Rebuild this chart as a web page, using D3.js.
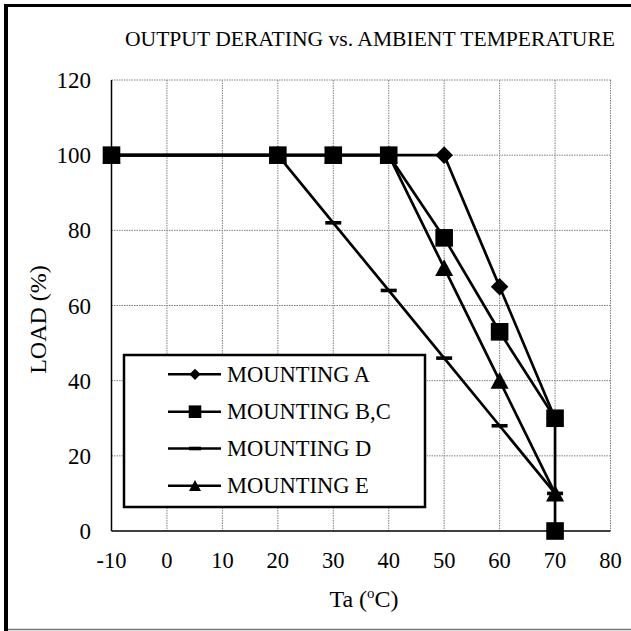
<!DOCTYPE html>
<html>
<head>
<meta charset="utf-8">
<script src="https://cdn.jsdelivr.net/npm/d3@7/dist/d3.min.js"></script>
<style>
  html, body { margin: 0; padding: 0; background: #fff; }
  svg { display: block; }
</style>
</head>
<body>
<script>
// ---- data ----
const chartTitle = "OUTPUT DERATING vs. AMBIENT TEMPERATURE";
const xTicks = [-10, 0, 10, 20, 30, 40, 50, 60, 70, 80];
const yTicks = [0, 20, 40, 60, 80, 100, 120];
const seriesNames = ["MOUNTING A", "MOUNTING B,C", "MOUNTING D", "MOUNTING E"];
const seriesMarkers = ["diamond", "square", "dash", "triangle"];
const tempA = [-10, 20, 30, 40, 50, 60, 70];
const loadA = [100, 100, 100, 100, 100, 65, 30];
const tempBC = [-10, 20, 30, 40, 50, 60, 70, 70];
const loadBC = [100, 100, 100, 100, 78, 53, 30, 0];
const tempD = [-10, 20, 30, 40, 50, 60, 70];
const loadD = [100, 100, 82, 64, 46, 28, 10];
const tempE = [-10, 20, 30, 40, 50, 60, 70];
const loadE = [100, 100, 100, 100, 70, 40, 10];

const seriesData = [
  tempA.map((t, i) => ({ t, v: loadA[i] })),
  tempBC.map((t, i) => ({ t, v: loadBC[i] })),
  tempD.map((t, i) => ({ t, v: loadD[i] })),
  tempE.map((t, i) => ({ t, v: loadE[i] }))
];

const FONT = "'Liberation Serif', 'Times New Roman', Times, 'DejaVu Serif', serif";

// ---- layout ----
const W = 631, H = 631;
const svg = d3.select("body").append("svg").attr("width", W).attr("height", H)
  .attr("font-family", FONT);

// outer frame
svg.append("line").attr("x1", 6).attr("x2", 6).attr("y1", 4).attr("y2", 631)
  .attr("stroke", "#000").attr("stroke-width", 4);
svg.append("line").attr("x1", 4).attr("x2", 631).attr("y1", 5.5).attr("y2", 5.5)
  .attr("stroke", "#000").attr("stroke-width", 3);
svg.append("line").attr("x1", 8).attr("x2", 631).attr("y1", 629.5).attr("y2", 629.5)
  .attr("stroke", "#777").attr("stroke-width", 1.5);

const x = d3.scaleLinear().domain([-10, 80]).range([111.5, 610.5]);
const y = d3.scaleLinear().domain([0, 120]).range([531, 80]);

// grid
const grid = svg.append("g");
grid.selectAll("line.v").data(xTicks.slice(1)).join("line")
  .attr("x1", d => x(d)).attr("x2", d => x(d))
  .attr("y1", y(120)).attr("y2", y(0))
  .attr("stroke", "#808080").attr("stroke-width", 1).attr("stroke-dasharray", "1.5,1");
grid.selectAll("line.h").data(yTicks.slice(1)).join("line")
  .attr("x1", x(-10)).attr("x2", x(80))
  .attr("y1", d => y(d)).attr("y2", d => y(d))
  .attr("stroke", "#808080").attr("stroke-width", 1).attr("stroke-dasharray", "1.5,1");

// axes lines
svg.append("line").attr("x1", x(-10)).attr("x2", x(-10)).attr("y1", y(120)).attr("y2", y(0))
  .attr("stroke", "#000").attr("stroke-width", 1.5);
svg.append("line").attr("x1", x(-10)).attr("x2", x(80)).attr("y1", y(0)).attr("y2", y(0))
  .attr("stroke", "#000").attr("stroke-width", 1.5);

// tick labels
svg.selectAll("text.yt").data(yTicks).join("text")
  .attr("x", 91).attr("y", d => y(d) + 8)
  .attr("text-anchor", "end").attr("font-size", 23)
  .text(d => d);
svg.selectAll("text.xt").data(xTicks).join("text")
  .attr("x", d => x(d)).attr("y", 567.5)
  .attr("text-anchor", "middle").attr("font-size", 22.5)
  .text(d => d);

// axis titles
svg.append("text")
  .attr("transform", "translate(46,319.5) rotate(-90)")
  .attr("text-anchor", "middle").attr("font-size", 24)
  .text("LOAD (%)");
const xt = svg.append("text").attr("x", 364).attr("y", 606.5)
  .attr("text-anchor", "middle").attr("font-size", 24);
xt.append("tspan").text("Ta (");
xt.append("tspan").attr("font-size", 15).attr("dy", -8.5).text("o");
xt.append("tspan").attr("dy", 8.5).text("C)");

// title
svg.append("text").attr("x", 370).attr("y", 46)
  .attr("text-anchor", "middle").attr("font-size", 21.6)
  .text(chartTitle);

// marker shapes
function markerPath(type, s) {
  const p = d3.path();
  if (type === "diamond") {
    p.moveTo(0, -s); p.lineTo(s, 0); p.lineTo(0, s); p.lineTo(-s, 0); p.closePath();
  } else if (type === "square") {
    p.rect(-s, -s, 2 * s, 2 * s);
  } else if (type === "triangle") {
    p.moveTo(0, -s * 0.95); p.lineTo(s, s * 0.9); p.lineTo(-s, s * 0.9); p.closePath();
  } else if (type === "dash") {
    p.rect(-s, -1.8, 2 * s, 3.6);
  }
  return p.toString();
}
const markerSize = { diamond: 8.8, square: 8.8, triangle: 9, dash: 8 };
const legendMarkerSize = { diamond: 5.6, square: 6.3, triangle: 6, dash: 6 };

const line = d3.line().x(d => x(d.t)).y(d => y(d.v));

// series
seriesData.forEach((data, i) => {
  const g = svg.append("g");
  g.append("path").datum(data).attr("d", line)
    .attr("fill", "none").attr("stroke", "#000").attr("stroke-width", 2.7)
    .attr("stroke-linejoin", "round");
  const m = seriesMarkers[i];
  g.selectAll("path.m").data(data).join("path")
    .attr("transform", d => `translate(${x(d.t)},${y(d.v)})`)
    .attr("d", markerPath(m, markerSize[m]))
    .attr("fill", "#000");
});

// legend
const lg = svg.append("g");
lg.append("rect").attr("x", 124).attr("y", 355).attr("width", 301).attr("height", 152)
  .attr("fill", "#fff").attr("stroke", "#000").attr("stroke-width", 2.5);
const rowY = [374.3, 411.7, 448.5, 485.7];
seriesNames.forEach((name, i) => {
  const ry = rowY[i];
  const m = seriesMarkers[i];
  lg.append("line").attr("x1", 168).attr("x2", 221).attr("y1", ry).attr("y2", ry)
    .attr("stroke", "#000").attr("stroke-width", 2.5);
  lg.append("path").attr("transform", `translate(195,${ry})`)
    .attr("d", markerPath(m, legendMarkerSize[m])).attr("fill", "#000");
  lg.append("text").attr("x", 227).attr("y", ry + 7.5)
    .attr("font-size", 22.5).text(name);
});
</script>
</body>
</html>
